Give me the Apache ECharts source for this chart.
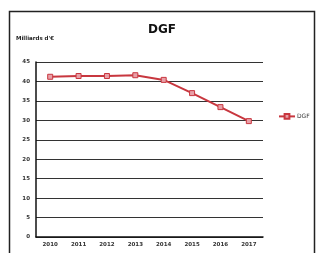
<!DOCTYPE html>
<html lang="fr">
<head>
    <meta charset="UTF-8">
    <title>DGF</title>
    <style>
        html, body { margin: 0; padding: 0; background: #fff; }
        #main { width: 316px; height: 253px; }
    </style>
</head>
<body>
    <div id="main"></div>
    <script src="https://cdn.jsdelivr.net/npm/echarts@6/dist/echarts.min.js"></script>
    <script>
        var years = ['2010', '2011', '2012', '2013', '2014', '2015', '2016', '2017'];
        var dgf = [41.2, 41.4, 41.4, 41.6, 40.4, 37.0, 33.4, 29.8];
        var yTicks = [0, 45, 5]; // min, max, interval

        var chart = echarts.init(document.getElementById('main'));
        var option = {
            backgroundColor: '#fff',
            animation: false,
            textStyle: { fontFamily: 'DejaVu Sans' },
            title: {
                text: 'DGF',
                left: 157,
                top: 19,
                textAlign: 'center',
                textStyle: { fontSize: 12, fontWeight: 'bold', color: '#111' }
            },
            graphic: [{
                type: 'rect',
                shape: { x: 9.5, y: 11.5, width: 305, height: 260 },
                style: { fill: 'none', stroke: '#222', lineWidth: 1.5 },
                silent: true
            }],
            legend: {
                data: ['DGF'],
                left: 278,
                top: 113,
                padding: 0,
                itemWidth: 16,
                itemHeight: 6,
                itemGap: 2,
                textStyle: { fontSize: 6, color: '#333', padding: [0, 0, 0, -3] }
            },
            grid: { left: 36, right: 53, top: 62, bottom: 16 },
            xAxis: {
                type: 'category',
                data: years,
                boundaryGap: true,
                axisLine: { lineStyle: { color: '#111', width: 1.5 } },
                axisTick: { show: false },
                axisLabel: { fontSize: 5.5, color: '#333', fontWeight: 'bold', margin: 5 }
            },
            yAxis: {
                type: 'value',
                min: yTicks[0],
                max: yTicks[1],
                interval: yTicks[2],
                name: "Milliards d'€",
                nameLocation: 'end',
                nameGap: 20,
                nameTextStyle: { fontSize: 5.5, fontWeight: 'bold', color: '#222', align: 'left', padding: [0, 0, 0, -20] },
                axisLine: { show: true, lineStyle: { color: '#111', width: 1.5 } },
                axisTick: { show: false },
                axisLabel: { fontSize: 5.5, color: '#333', fontWeight: 'bold', margin: 6 },
                splitLine: { lineStyle: { color: '#333', width: 1 } }
            },
            series: [{
                name: 'DGF',
                type: 'line',
                data: dgf,
                symbol: 'rect',
                symbolSize: 5,
                lineStyle: { color: '#c8373f', width: 2 },
                itemStyle: { color: '#e8a0a8', borderColor: '#c8373f', borderWidth: 1 }
            }]
        };
        chart.setOption(option);
    </script>
</body>
</html>
